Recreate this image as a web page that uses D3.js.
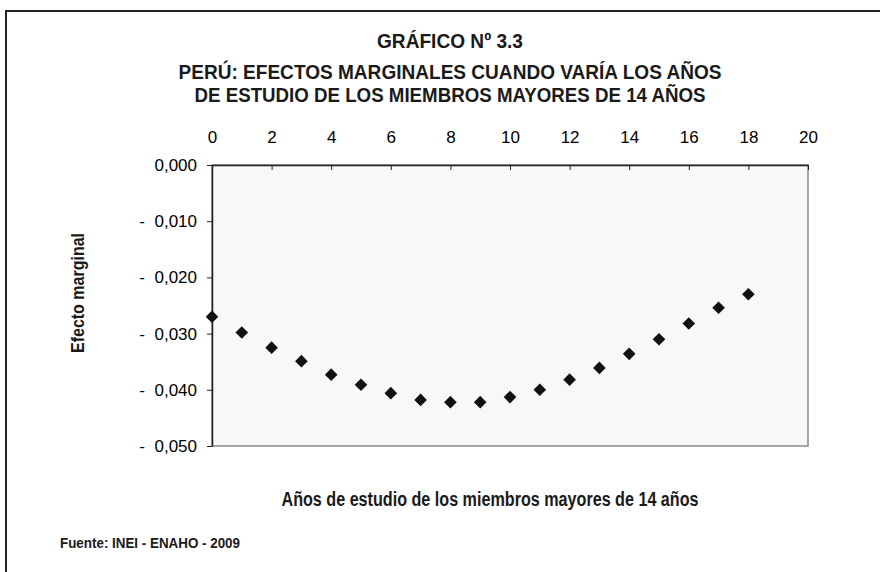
<!DOCTYPE html>
<html>
<head>
<meta charset="utf-8">
<script src="https://cdn.jsdelivr.net/npm/d3@7"></script>
<style>
  html, body { margin: 0; padding: 0; background: #fff; }
  svg { display: block; }
  .bold { font-family: "Liberation Sans", Arial, sans-serif; font-weight: bold; fill: #1a1a1a; }
  .tick text { font-family: "Liberation Sans", Arial, sans-serif; font-size: 17px; fill: #000; white-space: pre; }
</style>
</head>
<body>
<svg id="chart" width="880" height="572"></svg>
<script>
// Data
const years = [0, 1, 2, 3, 4, 5, 6, 7, 8, 9, 10, 11, 12, 13, 14, 15, 16, 17, 18];
const effects = [-0.0270, -0.0298, -0.0325, -0.0349, -0.0373, -0.0391, -0.0406, -0.0418, -0.0422,
                 -0.0422, -0.0413, -0.0400, -0.0382, -0.0361, -0.0336, -0.0310, -0.0282, -0.0254, -0.0230];
const xTicks = [0, 2, 4, 6, 8, 10, 12, 14, 16, 18, 20];
const yTicks = [0, -0.01, -0.02, -0.03, -0.04, -0.05];
const titleLines = [
    "GRÁFICO Nº 3.3",
    "PERÚ: EFECTOS MARGINALES CUANDO VARÍA LOS AÑOS",
    "DE ESTUDIO DE LOS MIEMBROS MAYORES DE 14 AÑOS"
];

// layout of the title lines (narrow bold face is imitated with textLength)
const titleBase = [48, 79, 102];
const titleWidth = [146, 543, 511];

const svg = d3.select("#chart");
const margin = { top: 165, left: 212, right: 72, bottom: 126 };
const width = 880 - margin.left - margin.right;
const height = 572 - margin.top - margin.bottom;

// Outer frame
svg.append("rect")
    .attr("x", 6).attr("y", 11)
    .attr("width", 900).attr("height", 600)
    .attr("fill", "none")
    .attr("stroke", "#222")
    .attr("stroke-width", 2);

// Title
svg.append("g").selectAll("text")
    .data(titleLines)
    .join("text")
    .attr("class", "bold")
    .attr("x", 450)
    .attr("y", (d, i) => titleBase[i])
    .attr("text-anchor", "middle")
    .attr("textLength", (d, i) => titleWidth[i])
    .attr("lengthAdjust", "spacingAndGlyphs")
    .style("font-size", "21px")
    .text(d => d);

const g = svg.append("g")
    .attr("transform", `translate(${margin.left},${margin.top})`);

const x = d3.scaleLinear().domain([0, 20]).range([0, width]);
const y = d3.scaleLinear().domain([0, -0.05]).range([0, height]);

// Plot area
g.append("rect")
    .attr("width", width)
    .attr("height", height)
    .attr("fill", "#f8f8f8")
    .attr("stroke", "#8a8a8a")
    .attr("stroke-width", 1.5);

// Top axis
g.append("g")
    .call(d3.axisTop(x).tickValues(xTicks).tickSizeInner(-5).tickSizeOuter(0).tickPadding(22).tickFormat(d3.format("d")))
    .call(a => a.select(".domain").attr("stroke", "#222").attr("stroke-width", 1.5))
    .call(a => a.selectAll(".tick line").attr("stroke", "#222"));

// Left axis
const fmtY = v => (v < 0 ? "-  " : "") + d3.format(".3f")(Math.abs(v)).replace(".", ",");
g.append("g")
    .call(d3.axisLeft(y).tickValues(yTicks).tickSizeInner(5).tickSizeOuter(0).tickPadding(10).tickFormat(fmtY))
    .call(a => a.select(".domain").attr("stroke", "#222").attr("stroke-width", 1.5))
    .call(a => a.selectAll(".tick line").attr("stroke", "#222"));

// Markers
const diamond = d3.symbol().type(d3.symbolSquare).size(80);
g.selectAll(".pt")
    .data(years.map((yr, i) => ({ yr, v: effects[i] })))
    .join("path")
    .attr("class", "pt")
    .attr("d", diamond)
    .attr("transform", d => `translate(${x(d.yr)},${y(d.v)}) rotate(45)`)
    .attr("fill", "#111");

// Axis titles
svg.append("text")
    .attr("class", "bold")
    .attr("transform", "translate(84,293) rotate(-90)")
    .attr("text-anchor", "middle")
    .attr("textLength", 120)
    .attr("lengthAdjust", "spacingAndGlyphs")
    .style("font-size", "19px")
    .text("Efecto marginal");

svg.append("text")
    .attr("class", "bold")
    .attr("x", 490)
    .attr("y", 506)
    .attr("text-anchor", "middle")
    .attr("textLength", 417)
    .attr("lengthAdjust", "spacingAndGlyphs")
    .style("font-size", "20px")
    .text("Años de estudio de los miembros mayores de 14 años");

svg.append("text")
    .attr("class", "bold")
    .attr("x", 60)
    .attr("y", 548)
    .attr("textLength", 180)
    .attr("lengthAdjust", "spacingAndGlyphs")
    .style("font-size", "15px")
    .text("Fuente: INEI - ENAHO - 2009");
</script>
</body>
</html>
